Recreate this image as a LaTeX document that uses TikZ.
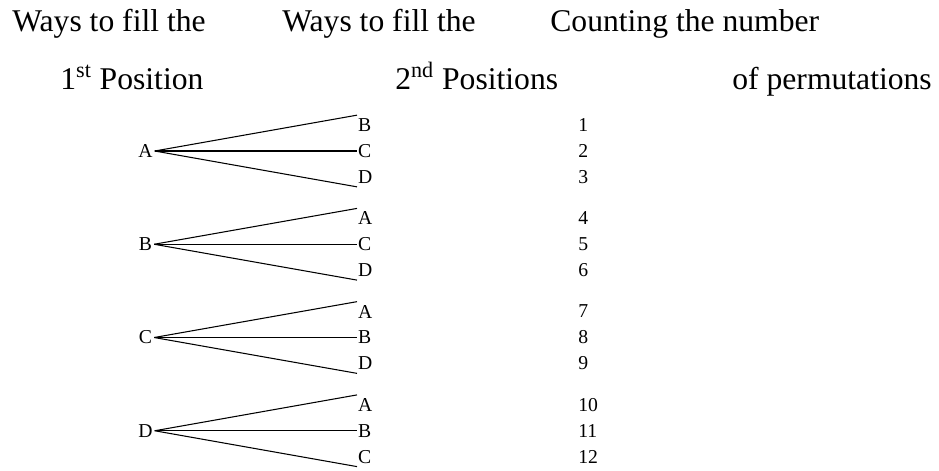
\documentclass[tikz,border=0pt]{standalone}
\usepackage{fontspec}
\setmainfont{Liberation Serif}
\usetikzlibrary{positioning}
\tikzset{
  head/.style={anchor=base west,inner sep=0pt,font=\fontsize{18}{20}\selectfont},
  root/.style={inner xsep=1pt,inner ysep=0pt,font=\fontsize{11.2}{13}\selectfont},
  leaf/.style={anchor=west,inner xsep=0.5pt,inner ysep=0pt,minimum height=3.8mm,
    font=\fontsize{11.2}{13}\selectfont},
  tally/.style={anchor=west,inner sep=0pt,font=\fontsize{11.2}{13}\selectfont},
  branch/.style={line width=0.6pt},
}

\begin{document}
\begin{tikzpicture}
  \useasboundingbox (0,0) rectangle (18.78,-9.4);
  % column headings
  \node[head] (h1) at (0.24,-0.62) {Ways to fill the};
  \node[head] (h2) at (5.64,-0.62) {Ways to fill the};
  \node[head] (h3) at (11.0,-0.62) {Counting the number};
  \node[head] (g1) at (1.2,-1.78) {1\textsuperscript{st} Position};
  \node[head] (g2) at (7.9,-1.78) {2\textsuperscript{nd} Positions};
  \node[head] (g3) at (14.64,-1.78) {of permutations};
  % one tree per first letter
  \foreach \r/\p/\q/\s [count=\g] in {A/B/C/D,B/A/C/D,C/A/B/D,D/A/B/C}
  {
    \pgfmathsetmacro{\y}{-3.02-(\g-1)*1.865}
    \node[root] (r\g) at (2.91,\y) {\r};
    \node[leaf] (p\g) at (7.14,\y+0.52) {\p};
    \node[leaf] (q\g) at (7.14,\y) {\q};
    \node[leaf] (s\g) at (7.14,\y-0.52) {\s};
    \draw[branch] (r\g.east) -- (p\g.north west);
    \draw[branch] (r\g.east) -- (q\g.west);
    \draw[branch] (r\g.east) -- (s\g.south west);
    \foreach \k/\dy in {1/0.52,2/0,3/-0.52}
    {
      \pgfmathtruncatemacro{\n}{3*(\g-1)+\k}
      \node[tally] (c\n) at (11.56,\y+\dy) {\n};
    }
  }
\end{tikzpicture}
\end{document}
